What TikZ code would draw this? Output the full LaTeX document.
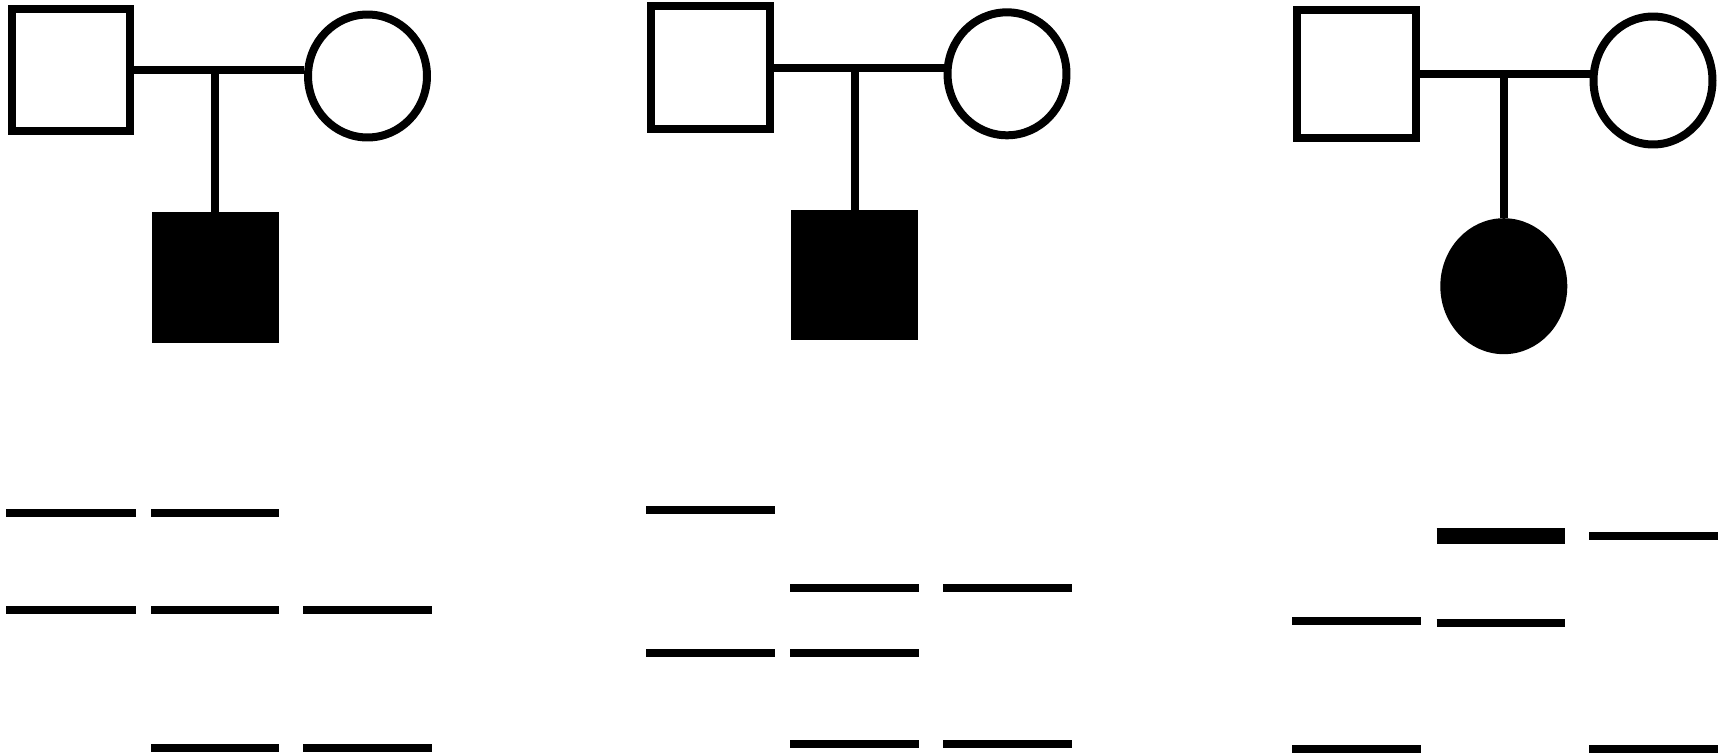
\documentclass[tikz,border=0pt]{standalone}
\usepackage{tikz}
\usetikzlibrary{shapes}
\usetikzlibrary{positioning}

\tikzset{
    male/.style={draw, rectangle, line width=0.16cm, inner sep=0pt, minimum width=2.38cm, minimum height=2.46cm},
    female/.style={draw, ellipse, line width=0.16cm, inner sep=0pt, minimum width=2.38cm, minimum height=2.46cm},
    affected/.style={fill=black},
    tall/.style={minimum height=2.56cm},
    link/.style={line width=0.16cm},
    band/.style={line width=0.16cm},
    bigband/.style={line width=0.32cm}
}

\begin{document}
\begin{tikzpicture}[x=0.02cm, y=-0.02cm]
    \useasboundingbox (0,0) rectangle (1729,754);

    % first family
    \node[male] (f1) at (71,70) {};
    \node[female] (m1) at (367.5,76) {};
    \node[male, affected] (c1) at (215.3,277.7) {};
    \draw[link] (f1.east) -- (f1.east -| m1.west);
    \draw[link] (c1.north) -- (c1.north |- f1.east);

    % second family
    \node[male] (f2) at (710.8,67.5) {};
    \node[female] (m2) at (1007,73.8) {};
    \node[male, affected] (c2) at (854.8,275) {};
    \draw[link] (f2.east) -- (f2.east -| m2.west);
    \draw[link] (c2.north) -- (c2.north |- f2.east);

    % third family
    \node[male, tall] (f3) at (1356.7,74) {};
    \node[female, tall] (m3) at (1653,80.5) {};
    \node[female, tall, affected] (c3) at (1503.8,286.2) {};
    \draw[link] (f3.east) -- (f3.east -| m3.west);
    \draw[link] (c3.north) -- (c3.north |- f3.east);

    % bands, first family
    \draw[band] (6.3,512.5) -- ++(129.4,0);
    \draw[band] (6.3,609.7) -- ++(129.4,0);
    \draw[band] (151,512.5) -- ++(128.3,0);
    \draw[band] (151,609.7) -- ++(128.3,0);
    \draw[band] (151,747.5) -- ++(128.3,0);
    \draw[band] (303.3,609.7) -- ++(129,0);
    \draw[band] (303.3,747.5) -- ++(129,0);

    % bands, second family
    \draw[band] (646.3,510) -- ++(129,0);
    \draw[band] (646.3,652.5) -- ++(129,0);
    \draw[band] (790.3,587.5) -- ++(129,0);
    \draw[band] (790.3,652.5) -- ++(129,0);
    \draw[band] (790.3,744.3) -- ++(129,0);
    \draw[band] (943.3,587.5) -- ++(128.7,0);
    \draw[band] (943.3,744.3) -- ++(128.7,0);

    % bands, third family
    \draw[band] (1292.3,621) -- ++(128.7,0);
    \draw[band] (1292.3,749) -- ++(128.7,0);
    \draw[bigband] (1436.7,536) -- ++(128.6,0);
    \draw[band] (1436.7,623) -- ++(128.6,0);
    \draw[band] (1589.3,536.2) -- ++(128.4,0);
    \draw[band] (1589.3,749) -- ++(128.4,0);
\end{tikzpicture}
\end{document}
